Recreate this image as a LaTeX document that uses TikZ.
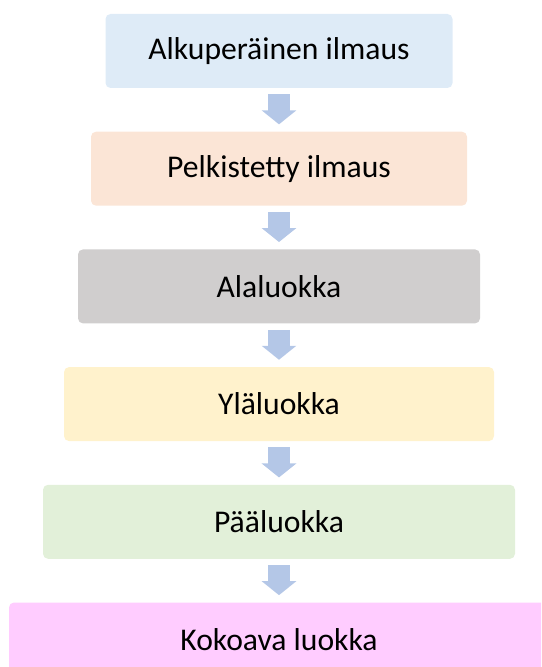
\documentclass[tikz,border=0pt]{standalone}
\usepackage{fontspec}
\setmainfont{Carlito}
\usepackage{tikz}
\usetikzlibrary{arrows.meta,positioning}

\definecolor{sininen}{HTML}{DEEBF7}
\definecolor{oranssi}{HTML}{FBE5D6}
\definecolor{harmaa}{HTML}{D0CECE}
\definecolor{keltainen}{HTML}{FFF2CC}
\definecolor{vihrea}{HTML}{E2F0D9}
\definecolor{pinkki}{HTML}{FFCCFF}
\definecolor{nuolisin}{HTML}{B4C7E7}

\begin{document}
\begin{tikzpicture}[
  laatikko/.style={rounded corners=0.1cm, minimum height=1.48cm, inner sep=0pt,
    font=\fontsize{18}{21}\selectfont},
  nuoli/.style={draw=nuolisin, line width=0.44cm,
    -{Triangle[width=0.68cm,length=0.28cm]},
    shorten <=0.12cm, shorten >=0.14cm},
  node distance=0.86cm
]
\useasboundingbox (0,0) rectangle (10.82,13.34);
\clip (0,0) rectangle (10.82,13.34);
% Laatikot
\node[laatikko, fill=sininen, minimum width=6.94cm] (alku) at (5.58,12.32) {Alkuperäinen ilmaus};
\node[laatikko, fill=oranssi, minimum width=7.52cm, below=of alku] (pelk) {Pelkistetty ilmaus};
\node[laatikko, fill=harmaa, minimum width=8.04cm, below=of pelk] (ala) {Alaluokka};
\node[laatikko, fill=keltainen, minimum width=8.6cm, below=of ala] (yla) {Yläluokka};
\node[laatikko, fill=vihrea, minimum width=9.44cm, below=of yla] (paa) {Pääluokka};
\node[laatikko, fill=pinkki, minimum width=10.8cm, below=of paa] (koko) {Kokoava luokka};
% Nuolet
\foreach \a/\b in {alku/pelk, pelk/ala, ala/yla, yla/paa, paa/koko}{
  \draw[nuoli] (\a) -- (\b);
}
\end{tikzpicture}
\end{document}
